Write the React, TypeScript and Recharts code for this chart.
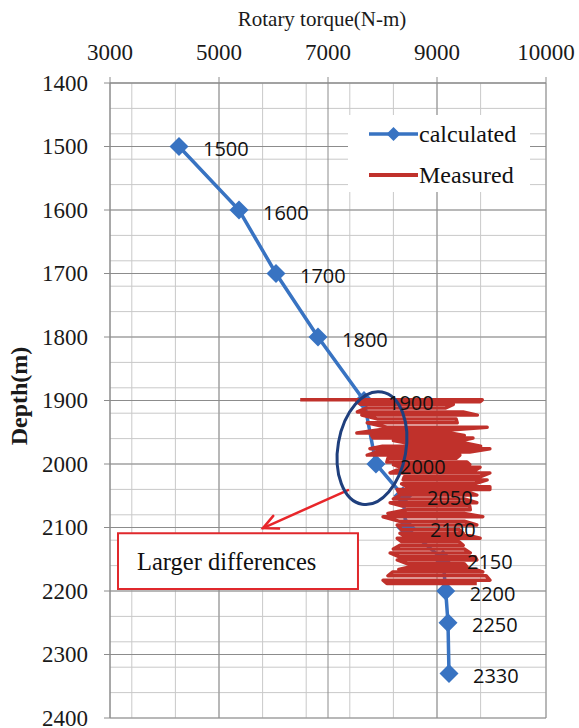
import {
  LineChart,
  Line,
  XAxis,
  YAxis,
  CartesianGrid,
  Legend,
  LabelList,
  ReferenceArea,
  ReferenceLine,
  ReferenceDot,
} from 'recharts';

// axis ticks
const torqueTicks = [3000, 5000, 7000, 9000, 11000];
const torqueTickLabels = ['3000', '5000', '7000', '9000', '10000'];
const depthTicks = [1400, 1500, 1600, 1700, 1800, 1900, 2000, 2100, 2200, 2300, 2400];

// calculated torque at each depth
const calcDepth = [1500, 1600, 1700, 1800, 1900, 2000, 2050, 2100, 2150, 2200, 2250, 2330];
const calcTorque = [4266, 5367, 6046, 6817, 7660, 7880, 8376, 8430, 9110, 9160, 9202, 9220];

// measured torque trace, read stroke by stroke off the picture
const measuredDepth = [
  1899, 1899, 1902, 1902, 1906, 1906, 1912, 1912, 1918, 1918, 1923, 1923,
  1929, 1929, 1935, 1935, 1942, 1942, 1946, 1946, 1951, 1951, 1955, 1955,
  1959, 1959, 1963, 1963, 1967, 1967, 1972, 1972, 1976, 1976, 1981, 1981,
  1986, 1986, 1991, 1991, 1997, 1997, 2001, 2001, 2005, 2005, 2010, 2010,
  2014, 2014, 2020, 2020, 2025, 2025, 2031, 2031, 2036, 2036, 2040, 2040,
  2045, 2045, 2049, 2049, 2055, 2055, 2061, 2061, 2066, 2066, 2072, 2072,
  2078, 2078, 2083, 2083, 2090, 2090, 2096, 2096, 2103, 2103, 2109, 2109,
  2113, 2113, 2117, 2117, 2122, 2122, 2128, 2128, 2134, 2134, 2140, 2140,
  2146, 2146, 2151, 2151, 2157, 2157, 2162, 2162, 2166, 2166, 2170, 2170,
  2176, 2176, 2183, 2183, 2188, 2188,
];
const measuredTorque = [
  6490, 9830, 9790, 7530, 7600, 9300, 9150, 7700, 7540, 9480, 9740, 7620,
  7900, 9350, 9370, 7720, 8080, 9920, 9300, 7950, 7530, 9240, 9500, 7800,
  7830, 9660, 9450, 8200, 8450, 9510, 9800, 8000, 7770, 9970, 9600, 7900,
  7720, 9420, 9350, 8100, 8080, 9550, 9600, 8200, 8320, 9790, 9700, 8250,
  8140, 9970, 9800, 8400, 8380, 9920, 9700, 8350, 8450, 9970, 9970, 8270,
  8300, 9600, 9730, 8320, 8200, 9500, 9730, 8140, 8350, 9600, 9610, 8450,
  8100, 9500, 9840, 8010, 8300, 9500, 9730, 8270, 8350, 9400, 9480, 8320,
  8400, 9600, 9790, 8270, 8350, 9400, 9480, 8320, 8200, 9500, 9610, 8140,
  8300, 9700, 9730, 8270, 8450, 9500, 9550, 8500, 8300, 9700, 9840, 8190,
  8100, 9900, 9970, 8010, 8080, 9730,
];

const seriesNames = ['calculated', 'Measured'];
const seriesColors = ['#3873c2', '#c0312b'];

const calculated = calcDepth.map((depth, i) => ({ depth, torque: calcTorque[i] }));
const measured = measuredDepth.map((depth, i) => ({ depth, torque: measuredTorque[i] }));

const minorTorque: number[] = [];
for (let v = 3000; v <= 11000; v += 400) minorTorque.push(v);
const minorDepth: number[] = [];
for (let v = 1400; v <= 2400; v += 20) minorDepth.push(v);

const serif = '"Liberation Serif", "Times New Roman", serif';
const sans = '"Open Sans", "Liberation Sans", sans-serif';

const Diamond = ({ cx, cy, r = 9.5, color = seriesColors[0] }: any) => {
  if (cx == null || cy == null) return null;
  return (
    <polygon
      points={`${cx},${cy - r} ${cx + r},${cy} ${cx},${cy + r} ${cx - r},${cy}`}
      fill={color}
    />
  );
};

const XTick = ({ x, y, payload }: any) => (
  <text x={x} y={y} textAnchor="middle" fontFamily={serif} fontSize={23} fill="#1a1a1a">
    {torqueTickLabels[torqueTicks.indexOf(payload.value)]}
  </text>
);

const YTick = ({ x, y, payload }: any) => (
  <text x={x} y={y} textAnchor="end" dominantBaseline="central" fontFamily={serif} fontSize={23} fill="#1a1a1a">
    {payload.value}
  </text>
);

const renderLegend = () => (
  <div style={{ background: '#fff', width: 182, height: 77, position: 'relative', fontFamily: serif, fontSize: 24, color: '#111' }}>
    {seriesNames.map((name, i) => (
      <div
        key={name}
        style={{ position: 'absolute', left: 21, top: i === 0 ? 4 : 45, height: 30, display: 'flex', alignItems: 'center', whiteSpace: 'nowrap' }}
      >
        <svg width={49} height={20} style={{ display: 'block' }}>
          <line x1={0} y1={10} x2={49} y2={10} stroke={seriesColors[i]} strokeWidth={i === 0 ? 3.5 : 4} />
          {i === 0 && <Diamond cx={24.5} cy={10} r={7} />}
        </svg>
        <span style={{ marginLeft: 1, lineHeight: '30px' }}>{name}</span>
      </div>
    ))}
  </div>
);

const renderArrow = (p: any) => {
  const { x1, y1, x2, y2 } = p;
  const ang = Math.atan2(y2 - y1, x2 - x1);
  const len = 16;
  const spread = 0.45;
  const ax = x2 - len * Math.cos(ang - spread);
  const ay = y2 - len * Math.sin(ang - spread);
  const bx = x2 - len * Math.cos(ang + spread);
  const by = y2 - len * Math.sin(ang + spread);
  return (
    <g stroke="#e8262a" strokeWidth={2.5} fill="none" strokeLinecap="round">
      <line x1={x1} y1={y1} x2={x2} y2={y2} />
      <polyline points={`${ax},${ay} ${x2},${y2} ${bx},${by}`} />
    </g>
  );
};

const renderEllipse = (p: any) => (
  <ellipse
    cx={p.cx}
    cy={p.cy}
    rx={34}
    ry={57}
    transform={`rotate(10 ${p.cx} ${p.cy})`}
    fill="none"
    stroke="#1f3f7d"
    strokeWidth={3}
  />
);

const renderPointLabel = (p: any) => (
  <text x={p.x + 24} y={p.y + 2} dominantBaseline="central" fontFamily={sans} fontSize={20} fill="#111">
    {p.value}
  </text>
);

const renderAreaLabel = (p: any) => {
  const vb = p.viewBox;
  return (
    <text x={vb.x + 19} y={vb.y + vb.height / 2} dominantBaseline="central" fontFamily={serif} fontSize={24.5} fill="#111">
      Larger differences
    </text>
  );
};

export default function App() {
  return (
    <div style={{ position: 'absolute', left: 0, top: 0, width: 579, height: 728, background: '#fff', fontFamily: serif }}>
      <LineChart width={579} height={728} margin={{ top: 0, right: 33, bottom: 10, left: 0 }}>
        <CartesianGrid stroke="#c9c9c9" horizontalValues={minorDepth} verticalValues={minorTorque} />
        <CartesianGrid stroke="#8c8c8c" horizontalValues={depthTicks} verticalValues={torqueTicks} />
        <XAxis
          type="number"
          dataKey="torque"
          orientation="top"
          domain={[3000, 11000]}
          ticks={torqueTicks}
          allowDataOverflow
          height={83}
          tickSize={6}
          tickMargin={17}
          stroke="#8c8c8c"
          tick={<XTick />}
          label={(p: any) => (
            <text x={322} y={26} textAnchor="middle" fontFamily={serif} fontSize={21} fill="#1a1a1a">
              Rotary torque(N-m)
            </text>
          )}
        />
        <YAxis
          type="number"
          dataKey="depth"
          reversed
          domain={[1400, 2400]}
          ticks={depthTicks}
          allowDataOverflow
          width={110}
          tickSize={6}
          tickMargin={16}
          stroke="#8c8c8c"
          tick={<YTick />}
          label={(p: any) => (
            <text
              x={19}
              y={396}
              transform="rotate(-90 19 396)"
              textAnchor="middle"
              dominantBaseline="central"
              fontFamily={serif}
              fontWeight="bold"
              fontSize={24}
              fill="#1a1a1a"
            >
              Depth(m)
            </text>
          )}
        />
        <ReferenceArea
          x1={3147}
          x2={7550}
          y1={2109}
          y2={2197}
          ifOverflow="visible"
          fill="#fff"
          fillOpacity={1}
          stroke="#e0282c"
          strokeWidth={2}
          label={renderAreaLabel}
        />
        <Line
          data={calculated}
          dataKey="depth"
          name={seriesNames[0]}
          stroke={seriesColors[0]}
          strokeWidth={3.5}
          dot={(p: any) => <Diamond key={`d-${p.index}`} cx={p.cx} cy={p.cy} />}
          activeDot={false}
          isAnimationActive={false}
        />
        <Line
          data={measured}
          dataKey="depth"
          name={seriesNames[1]}
          stroke={seriesColors[1]}
          strokeWidth={3.5}
          strokeLinejoin="round"
          dot={false}
          activeDot={false}
          isAnimationActive={false}
          zIndex={1500}
        />
        <ReferenceDot x={7807} y={1975} ifOverflow="visible" shape={renderEllipse} zIndex={1600} />
        <ReferenceLine
          segment={[{ x: 7367, y: 2041 }, { x: 5807, y: 2101 }]}
          ifOverflow="visible"
          shape={renderArrow}
        />
        <Line
          data={calculated}
          dataKey="depth"
          stroke="none"
          dot={false}
          activeDot={false}
          legendType="none"
          isAnimationActive={false}
          zIndex={1700}
        >
          <LabelList dataKey="depth" content={renderPointLabel} zIndex={2100} />
        </Line>
        <Legend
          layout="vertical"
          align="center"
          verticalAlign="middle"
          content={renderLegend}
          wrapperStyle={{ left: 348, top: 115, width: 182, height: 77 }}
        />
      </LineChart>
    </div>
  );
}
